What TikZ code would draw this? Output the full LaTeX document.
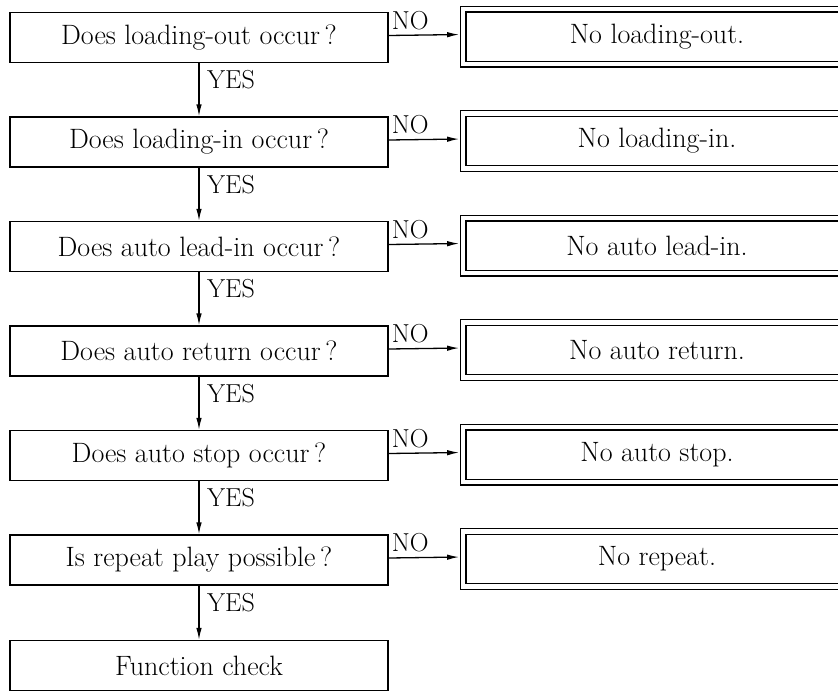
\documentclass[tikz,border=0pt]{standalone}
\usetikzlibrary{arrows.meta}
\tikzset{
  qbox/.style={draw, line width=1.3pt, minimum width=378pt, minimum height=50pt, inner sep=0pt, font=\fontsize{28}{32}\selectfont},
  nbox/.style={draw, double, double distance=4.6pt, line width=1.2pt, minimum width=388pt, minimum height=55pt, inner sep=0pt, font=\fontsize{28}{32}\selectfont},
  flow/.style={line width=1.3pt, -{Latex[length=12pt,width=5.5pt]}},
  nflow/.style={flow, shorten >=3.3pt},
  lbl/.style={inner sep=0pt, font=\fontsize{26}{30}\selectfont},
}
\begin{document}
\begin{tikzpicture}[x=1pt, y=-1pt]
\useasboundingbox (0,0) rectangle (838,691);
\clip (0,0) rectangle (838,691);
\node[qbox] (q0) at (199,37.5) {Does loading-out occur\,?};
\node[qbox] (q1) at (199,142) {Does loading-in occur\,?};
\node[qbox] (q2) at (199,246.5) {Does auto lead-in occur\,?};
\node[qbox] (q3) at (199,351) {Does auto return occur\,?};
\node[qbox] (q4) at (199,455.5) {Does auto stop occur\,?};
\node[qbox] (q5) at (199,560) {Is repeat play possible\,?};
\node[qbox] (q6) at (199,665.5) {Function check};
\node[nbox] (n0) at (657,36.5) {No loading-out.};
\node[nbox] (n1) at (657,141) {No loading-in.};
\node[nbox] (n2) at (657,245.5) {No auto lead-in.};
\node[nbox] (n3) at (657,350) {No auto return.};
\node[nbox] (n4) at (657,454.5) {No auto stop.};
\node[nbox] (n5) at (657,559) {No repeat.};
\foreach \i/\j in {0/1,1/2,2/3,3/4,4/5,5/6}{
  \draw[flow] (q\i.south) -- (q\j.north);
  \node[lbl, anchor=north west] (yes\i) at ([xshift=8pt,yshift=-7pt]q\i.south) {YES};
}
\foreach \i in {0,...,5}{
  \draw[nflow] ([yshift=2pt]q\i.east) -- ([yshift=2pt]n\i.west);
  \node[lbl, anchor=north west] (no\i) at ([xshift=3pt,yshift=1pt]q\i.north east) {NO};
}
\end{tikzpicture}
\end{document}
